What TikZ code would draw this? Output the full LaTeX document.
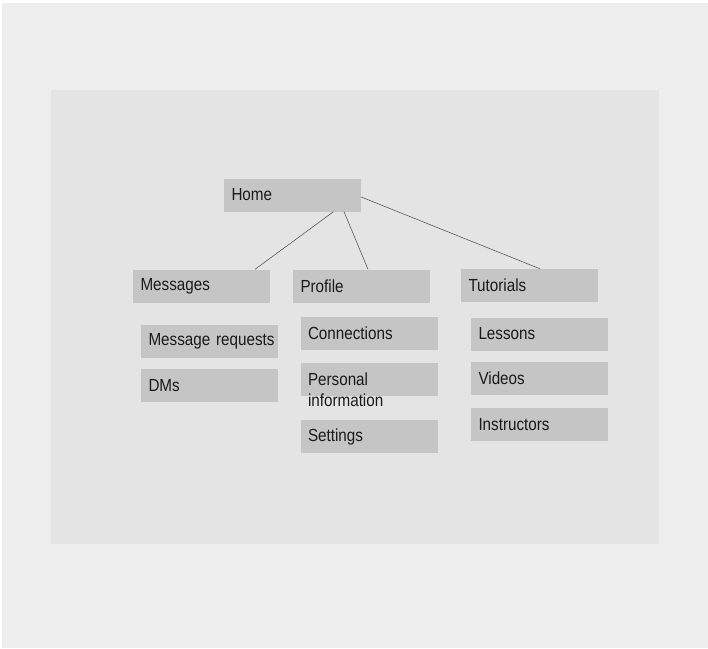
\documentclass[tikz,border=0pt]{standalone}
\usepackage{fontspec}
\setmainfont{Liberation Sans}[FakeStretch=0.87]
\usepackage{tikz}
\usetikzlibrary{positioning}

\definecolor{pagegray}{HTML}{EEEEEE}
\definecolor{panelgray}{HTML}{E4E4E4}
\definecolor{boxgray}{HTML}{C5C5C5}
\definecolor{linkgray}{HTML}{5A5A5A}
\definecolor{textgray}{HTML}{1A1A1A}

\tikzset{
  box/.style={fill=boxgray, minimum width=137pt, minimum height=33pt, inner xsep=7.5pt, inner ysep=0pt,
    text width=122pt, align=left, font=\fontsize{17.5}{21}\selectfont, text=textgray},
  link/.style={draw=linkgray, line width=0.6pt}
}

\begin{document}
\begin{tikzpicture}[x=1pt, y=-1pt]
        \fill[white] (0,0) rectangle (708,648);
        \fill[pagegray] (2,3) rectangle (708,648);
        \fill[panelgray] (51,90) rectangle (659,544);
        \useasboundingbox (0,0) rectangle (708,648);

        \node[box] (home) at (292.5,195) {Home};

        \node[box] (messages) at (201.5,286) {Messages};
        \node[box] (profile) at (361.5,286) {Profile};
        \node[box] (tutorials) at (529.5,285.5) {Tutorials};

        \node[box] (requests) at (209.5,341) {\mbox{Message requests}};
        \node[box] (dms) at (209.5,385.5) {DMs};

        \node[box] (connections) at (369,333.5) {Connections};
        \node[box] (personal) at (369,379) {};
        \node[box, fill=none, anchor=north west] (personaltext) at ([yshift=-10pt]personal.north west) {Personal\\information};
        \node[box] (settings) at (369,436.5) {Settings};

        \node[box] (lessons) at (539.5,334) {Lessons};
        \node[box] (videos) at (539.5,378.5) {Videos};
        \node[box] (instructors) at (539.5,424.5) {Instructors};

        \draw[link] ([xshift=41pt]home.south) -- ([xshift=53.5pt]messages.north);
        \draw[link] ([xshift=51.5pt]home.south) -- ([xshift=6.5pt]profile.north);
        \draw[link] ([yshift=-2pt]home.east) -- ([xshift=10.5pt]tutorials.north);
\end{tikzpicture}
\end{document}
